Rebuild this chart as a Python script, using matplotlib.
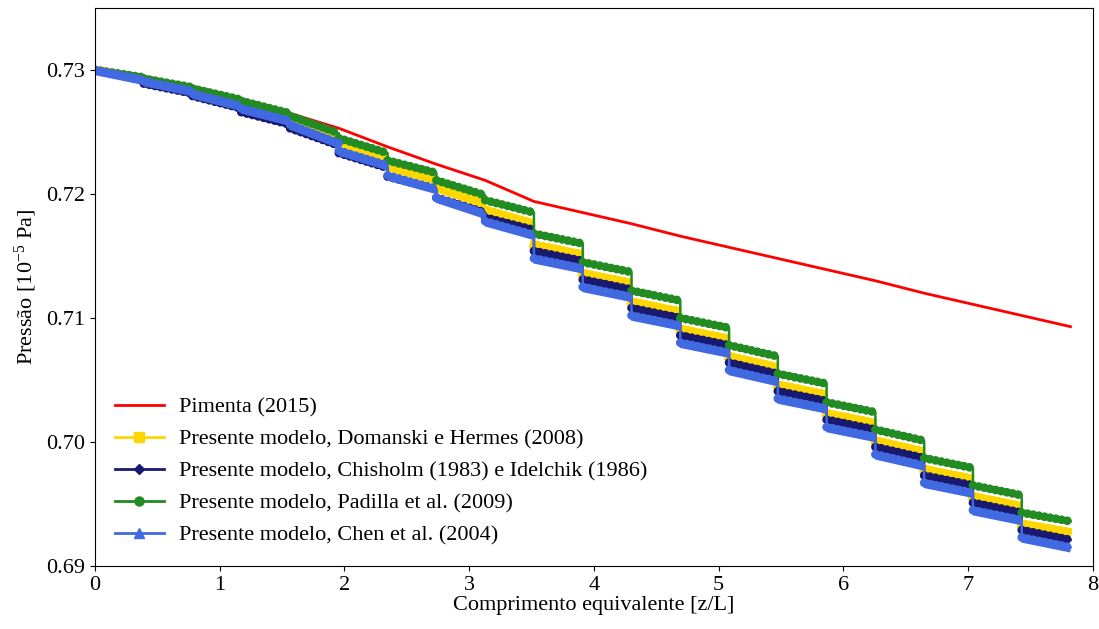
"""Pressao ao longo do comprimento equivalente - comparacao de correlacoes"""
import numpy as np
import matplotlib
matplotlib.use("Agg")
import matplotlib.pyplot as plt
import matplotlib.patheffects as pe
from matplotlib.lines import Line2D

plt.rcParams["font.family"] = ["Liberation Serif", "DejaVu Serif"]
plt.rcParams["mathtext.fontset"] = "custom"
plt.rcParams["mathtext.rm"] = "Liberation Serif"
plt.rcParams["font.size"] = 16

# posicoes dos nos (fim de cada trecho) [z/L]
x_nos = [0.0, 0.391, 0.782, 1.173, 1.564, 1.955, 2.346, 2.737, 3.128, 3.519,
         3.910, 4.301, 4.692, 5.083, 5.474, 5.865, 6.256, 6.647, 7.038, 7.429, 7.820]

# Pimenta (2015), valor em cada no
pimenta = [0.7300, 0.7295, 0.7287, 0.7277, 0.7265, 0.7253, 0.7238, 0.7224, 0.7211,
           0.7194, 0.7185, 0.7176, 0.7166, 0.7157, 0.7148, 0.7139, 0.7130, 0.7120,
           0.7111, 0.7102, 0.7093]

# presente modelo: pressao no inicio e no fim de cada trecho
domanski_ini = [0.7300, 0.7292, 0.7283, 0.7272, 0.7259, 0.7241, 0.7222, 0.7205, 0.7187, 0.7159,
                0.7136, 0.7113, 0.7091, 0.7069, 0.7046, 0.7023, 0.7001, 0.6978, 0.6956, 0.6934]
domanski_fim = [0.7293, 0.7284, 0.7274, 0.7262, 0.7245, 0.7228, 0.7211, 0.7192, 0.7176, 0.7151,
                0.7128, 0.7105, 0.7083, 0.7060, 0.7038, 0.7015, 0.6992, 0.6970, 0.6948, 0.6927]

chisholm_ini = [0.7300, 0.7289, 0.7279, 0.7266, 0.7253, 0.7233, 0.7214, 0.7197, 0.7181, 0.7154,
                0.7131, 0.7108, 0.7086, 0.7064, 0.7041, 0.7018, 0.6996, 0.6973, 0.6951, 0.6929]
chisholm_fim = [0.7292, 0.7281, 0.7269, 0.7256, 0.7239, 0.7221, 0.7204, 0.7185, 0.7171, 0.7146,
                0.7123, 0.7100, 0.7078, 0.7055, 0.7033, 0.7010, 0.6987, 0.6965, 0.6943, 0.6921]

padilla_ini = [0.7300, 0.7293, 0.7285, 0.7275, 0.7263, 0.7245, 0.7227, 0.7211, 0.7195, 0.7168,
               0.7145, 0.7122, 0.7100, 0.7078, 0.7055, 0.7032, 0.7010, 0.6987, 0.6965, 0.6943]
padilla_fim = [0.7294, 0.7286, 0.7276, 0.7265, 0.7249, 0.7233, 0.7217, 0.7199, 0.7185, 0.7160,
               0.7137, 0.7114, 0.7092, 0.7069, 0.7047, 0.7024, 0.7001, 0.6979, 0.6957, 0.6936]

chen_ini = [0.7300, 0.7291, 0.7281, 0.7269, 0.7256, 0.7235, 0.7215, 0.7197, 0.7178, 0.7148,
            0.7125, 0.7102, 0.7080, 0.7058, 0.7035, 0.7012, 0.6990, 0.6967, 0.6945, 0.6923]
chen_fim = [0.7292, 0.7283, 0.7271, 0.7259, 0.7241, 0.7223, 0.7204, 0.7184, 0.7167, 0.7140,
            0.7117, 0.7094, 0.7072, 0.7049, 0.7027, 0.7004, 0.6981, 0.6959, 0.6937, 0.6915]

rotulos = ["Pimenta (2015)",
           "Presente modelo, Domanski e Hermes (2008)",
           "Presente modelo, Chisholm (1983) e Idelchik (1986)",
           "Presente modelo, Padilla et al. (2009)",
           "Presente modelo, Chen et al. (2004)"]

fig = plt.figure(figsize=(10.99, 6.29), dpi=100)
ax = fig.add_axes([0.0864, 0.1002, 0.9081, 0.8871])

ax.plot(x_nos, pimenta, color="red", lw=2)

xn = np.array(x_nos)
nan = np.full(len(xn) - 1, np.nan)
xs_linha = np.column_stack([xn[:-1], xn[1:]]).ravel()
xs_trecho = np.column_stack([xn[:-1], xn[1:], nan]).ravel()

series = [(domanski_ini, domanski_fim, "gold", "s"),
          (chisholm_ini, chisholm_fim, "midnightblue", "D"),
          (padilla_ini, padilla_fim, "forestgreen", "o"),
          (chen_ini, chen_fim, "royalblue", "^")]

for ini, fim, cor, mk in series:
    ini = np.array(ini)
    fim = np.array(fim)
    ax.plot(xs_linha, np.column_stack([ini, fim]).ravel(), color=cor, lw=1.8)
    ys = np.column_stack([ini, fim, nan]).ravel()
    cap = "projecting" if mk == "s" else "round"
    if mk == "^":
        # base plana dos triangulos
        ax.plot(xs_trecho, ys, color=cor, lw=3.8, solid_capstyle="butt",
                path_effects=[pe.Stroke(offset=(0, -1.8))])
    ax.plot(xs_trecho, ys, color=cor, lw=6.3, ls=(0, (0.01, 0.65)),
            dash_capstyle=cap)

handles = [Line2D([], [], color="red", lw=2)]
for ini, fim, cor, mk in series:
    handles.append(Line2D([], [], color=cor, lw=2, marker=mk,
                          markersize=6.5 if mk != "D" else 5.5))
ax.legend(handles, rotulos, loc="lower left", frameon=False, handlelength=2.2,
          labelspacing=0.52, handletextpad=0.7)

ax.set_xlim(0, 8)
ax.set_ylim(0.69, 0.735)
ax.set_xticks(range(0, 9))
ax.set_yticks([0.69, 0.70, 0.71, 0.72, 0.73])
ax.yaxis.set_major_formatter(matplotlib.ticker.FormatStrFormatter("%.2f"))
ax.set_xlabel("Comprimento equivalente [z/L]", labelpad=1)
ax.set_ylabel("Pressão [$\\mathregular{10^{-5}}$ Pa]", labelpad=5)

fig.savefig("out.png", dpi=100)
